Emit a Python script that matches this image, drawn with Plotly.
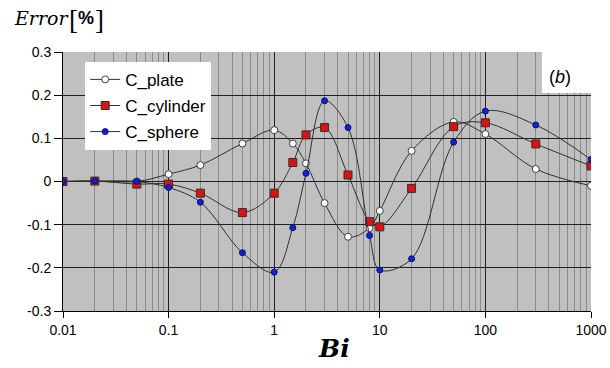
import plotly.graph_objects as go

bi = [0.01, 0.02, 0.05, 0.1, 0.2, 0.5, 1, 1.5, 2, 3, 5, 8, 10, 20, 50, 100, 300, 1000]
c_plate = [0.0, 0.001, 0.0, 0.017, 0.038, 0.088, 0.119, 0.088, 0.042, -0.050, -0.128, -0.108, -0.068, 0.071, 0.138, 0.110, 0.029, -0.010]
c_cylinder = [0.0, 0.001, -0.006, -0.006, -0.027, -0.072, -0.027, 0.044, 0.108, 0.125, 0.015, -0.093, -0.105, -0.016, 0.127, 0.136, 0.087, 0.036]
c_sphere = [0.0, 0.001, 0.0, -0.014, -0.048, -0.165, -0.210, -0.107, 0.019, 0.187, 0.125, -0.125, -0.205, -0.179, 0.091, 0.163, 0.131, 0.051]

y_ticks = [-0.3, -0.2, -0.1, 0, 0.1, 0.2, 0.3]
y_labels = ["-0.3", "-0.2", "-0.1", "0", "0.1", "0.2", "0.3"]
x_ticks = [0.01, 0.1, 1, 10, 100, 1000]
x_labels = ["0.01", "0.1", "1", "10", "100", "1000"]

line_style = dict(color="#303030", width=1, shape="spline", smoothing=1)

fig = go.Figure()
fig.add_trace(go.Scatter(
    x=bi, y=c_plate, name="C_plate", mode="lines+markers", legendgroup="a",
    line=line_style,
    marker=dict(symbol="circle", size=7, color="white", line=dict(color="#404040", width=1)),
))
fig.add_trace(go.Scatter(
    x=bi, y=c_cylinder, name="C_cylinder", mode="lines+markers", legendgroup="b",
    line=line_style,
    marker=dict(symbol="square", size=8, color="#e01010", line=dict(color="#303030", width=1)),
))
fig.add_trace(go.Scatter(
    x=bi, y=c_sphere, name="C_sphere", mode="lines+markers", legendgroup="c",
    line=line_style,
    marker=dict(symbol="circle", size=6, color="#1020e0", line=dict(color="#101060", width=1)),
))

fig.update_layout(
    width=610, height=368,
    margin=dict(l=63, r=19, t=52, b=57),
    paper_bgcolor="white",
    plot_bgcolor="#c0c0c0",
    font=dict(family="Arial, Liberation Sans, sans-serif", size=13, color="black"),
    showlegend=True,
    legend=dict(
        x=0.042, y=0.962, xanchor="left", yanchor="top",
        bgcolor="white", borderwidth=0,
        font=dict(family="Arial, Liberation Sans, sans-serif", size=17, color="black"),
        tracegroupgap=1, itemwidth=30,
    ),
    xaxis=dict(
        type="log", range=[-2, 3], automargin=False,
        tickvals=x_ticks, ticktext=x_labels,
        showgrid=True, gridcolor="#202020", gridwidth=1,
        showline=True, linecolor="black", linewidth=1,
        ticks="outside", ticklen=6, tickcolor="black",
        minor=dict(dtick="D1", showgrid=True, gridcolor="#8a8a8a", gridwidth=1, ticks=""),
        zeroline=False,
        tickfont=dict(size=14),
    ),
    yaxis=dict(
        range=[-0.3, 0.3], automargin=False,
        tickvals=y_ticks, ticktext=y_labels,
        showgrid=True, gridcolor="#202020", gridwidth=1,
        showline=True, linecolor="black", linewidth=1,
        ticks="outside", ticklen=8, tickcolor="black",
        zeroline=False,
        tickfont=dict(size=14),
    ),
    shapes=[dict(
        type="rect", xref="paper", yref="paper",
        x0=0.907, x1=1.0, y0=0.842, y1=1.0,
        fillcolor="white", line=dict(width=0), layer="above",
    )],
    annotations=[
        dict(text="(<i>b</i>)", xref="paper", yref="paper", x=0.941, y=0.903,
             xanchor="center", yanchor="middle", showarrow=False,
             font=dict(family="Arial, Liberation Sans, sans-serif", size=18, color="black")),
        dict(text="<b><i>Bi</i></b>", xref="paper", yref="paper", x=0.513, y=-0.143,
             xanchor="center", yanchor="middle", showarrow=False,
             font=dict(family="DejaVu Serif, serif", size=25, color="black")),
        dict(text="<i>Error</i>", xref="paper", yref="paper", x=-0.097, y=1.131,
             xanchor="left", yanchor="middle", showarrow=False,
             font=dict(family="DejaVu Serif, serif", size=19, color="black")),
        dict(text="[", xref="paper", yref="paper", x=0.008, y=1.124,
             xanchor="left", yanchor="middle", showarrow=False,
             font=dict(family="Liberation Serif, Times New Roman, serif", size=27, color="black")),
        dict(text="<b>%</b>", xref="paper", yref="paper", x=0.024, y=1.131,
             xanchor="left", yanchor="middle", showarrow=False,
             font=dict(family="Arial, Liberation Sans, sans-serif", size=18, color="black")),
        dict(text="]", xref="paper", yref="paper", x=0.057, y=1.124,
             xanchor="left", yanchor="middle", showarrow=False,
             font=dict(family="Liberation Serif, Times New Roman, serif", size=27, color="black")),
    ],
)

fig.write_html("out.html")
